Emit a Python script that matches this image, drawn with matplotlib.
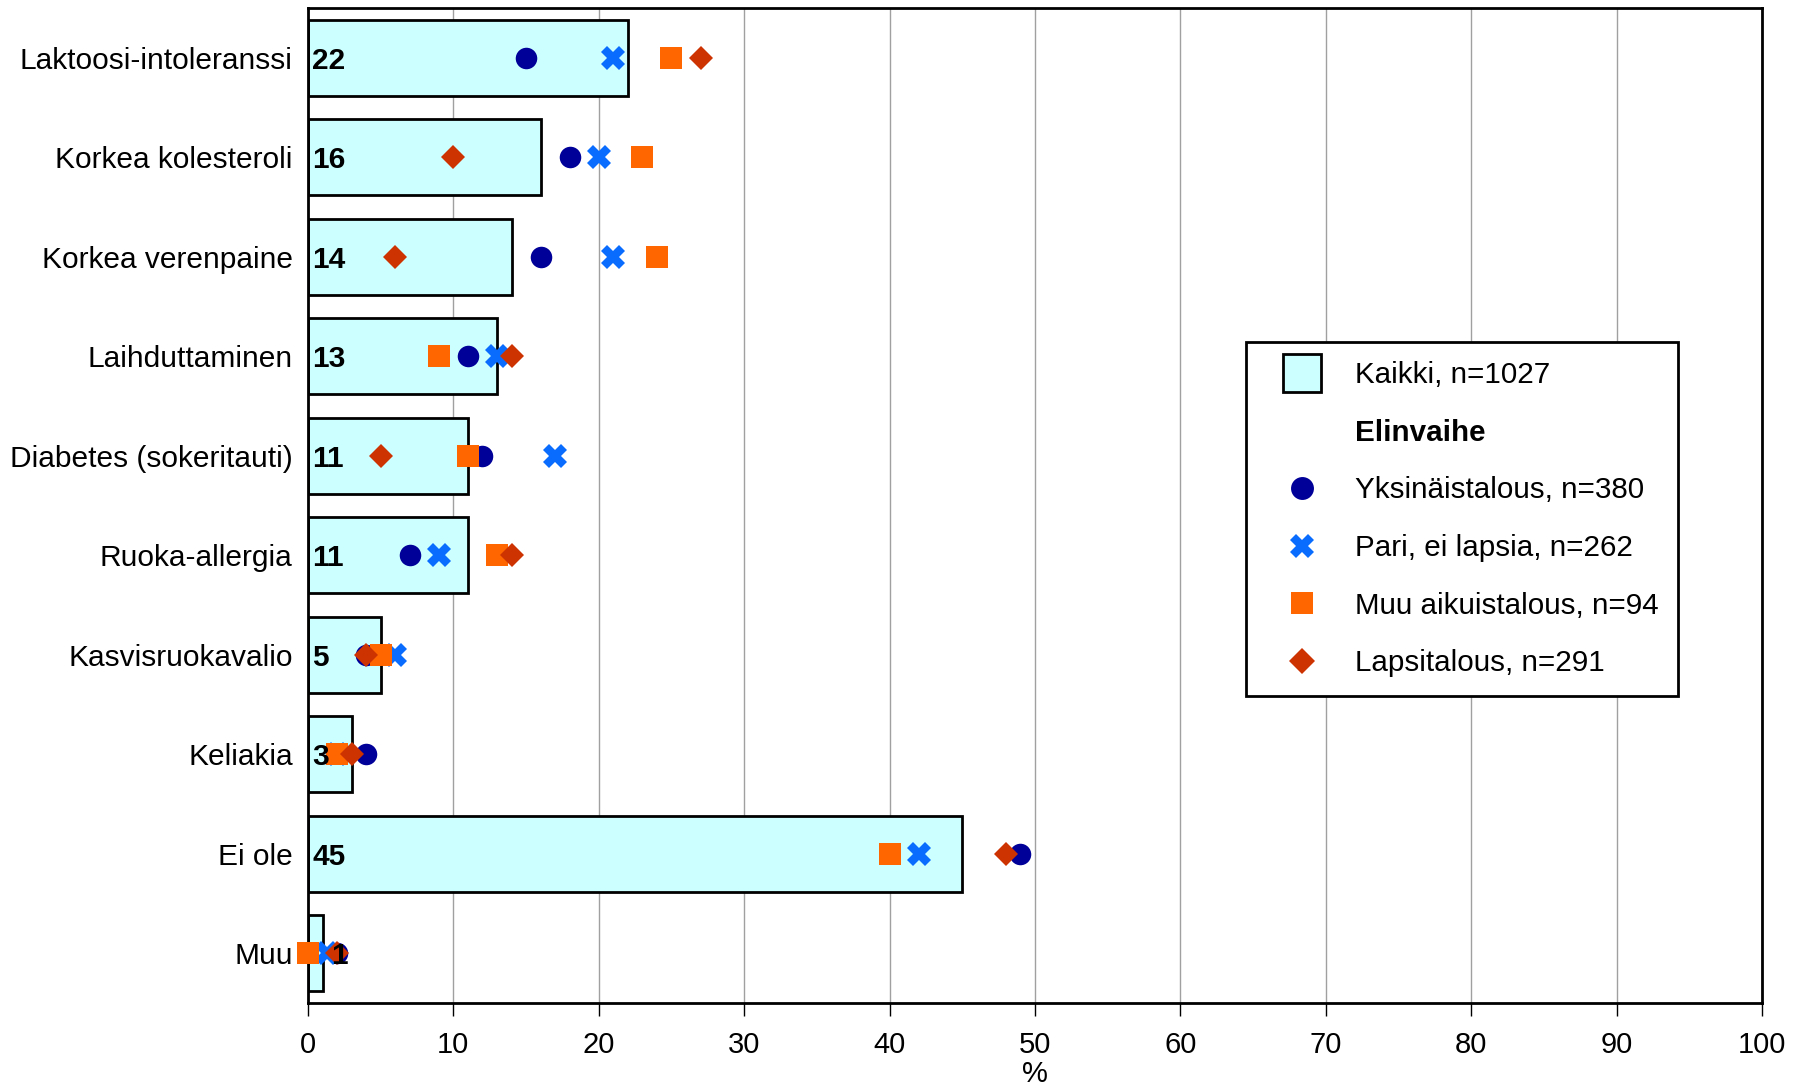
import matplotlib
matplotlib.use("Agg")
import matplotlib.pyplot as plt
from matplotlib.lines import Line2D

plt.rcParams["font.family"] = ["Liberation Sans", "DejaVu Sans"]

CATEGORIES = [
    "Laktoosi-intoleranssi", "Korkea kolesteroli", "Korkea verenpaine",
    "Laihduttaminen", "Diabetes (sokeritauti)", "Ruoka-allergia",
    "Kasvisruokavalio", "Keliakia", "Ei ole", "Muu",
]
KAIKKI = [22, 16, 14, 13, 11, 11, 5, 3, 45, 1]
YKSINAIS = [15, 18, 16, 11, 12, 7, 4, 4, 49, 2]
PARI = [21, 20, 21, 13, 17, 9, 6, 2, 42, 1.3]
MUU_AIKUIS = [25, 23, 24, 9, 11, 13, 5, 2, 40, 0]
LAPSI = [27, 10, 6, 14, 5, 14, 4, 3, 48, 2]

LEGEND_LABELS = [
    "Kaikki, n=1027", "Elinvaihe", "Yksinäistalous, n=380",
    "Pari, ei lapsia, n=262", "Muu aikuistalous, n=94", "Lapsitalous, n=291",
]
XTICKS = list(range(0, 101, 10))

BAR_COLOR = "#ccffff"
C_YKS = "#000099"
C_PARI = "#0a6cff"
C_MUU = "#ff6600"
C_LAPSI = "#cc3300"
FS = 21
FS_LEG = 21.3

fig = plt.figure(figsize=(18.01, 10.9), dpi=100)
ax = fig.add_axes([0.1710, 0.0798, 0.9783 - 0.1710, 0.9927 - 0.0798])

ypos = list(range(len(CATEGORIES)))
ax.barh(ypos, KAIKKI, height=0.76, color=BAR_COLOR, edgecolor="black",
        linewidth=2, zorder=2)

# markers may sit on the y axis (value 0), so don't clip them
ax.plot(YKSINAIS, ypos, "o", color=C_YKS, ms=15.5, mew=0, zorder=3, clip_on=False)
ax.plot(PARI, ypos, "X", color=C_PARI, ms=17, mew=0, zorder=4, clip_on=False)
ax.plot(MUU_AIKUIS, ypos, "s", color=C_MUU, ms=15.5, mew=0, zorder=5, clip_on=False)
ax.plot(LAPSI, ypos, "D", color=C_LAPSI, ms=12.5, mew=0, zorder=6, clip_on=False)

for y, v in zip(ypos, KAIKKI):
    x = 0.3 if v >= 3 else 1.6
    ax.text(x, y, str(v), ha="left", va="center_baseline", fontsize=21.5,
            fontweight="bold", zorder=7)

ax.set_xlim(0, 100)
ax.set_ylim(len(CATEGORIES) - 0.5, -0.5)
ax.set_xticks(XTICKS)
ax.set_yticks(ypos)
ax.set_yticklabels(CATEGORIES, fontsize=21.5)
ax.tick_params(axis="y", length=0, pad=11)
ax.tick_params(axis="x", length=9, width=1, labelsize=FS, pad=11)
ax.grid(axis="x", color="#a0a0a0", linewidth=1, zorder=0)
ax.set_axisbelow(True)
for s in ax.spines.values():
    s.set_linewidth(2)
ax.set_xlabel("%", fontsize=FS, labelpad=1)

handles = [
    Line2D([], [], marker="s", markerfacecolor=BAR_COLOR, markeredgecolor="black",
           mew=2, linestyle="none", ms=27),
    Line2D([], [], linestyle="none"),
    Line2D([], [], marker="o", color=C_YKS, linestyle="none", ms=16.5, mew=0),
    Line2D([], [], marker="X", color=C_PARI, linestyle="none", ms=17, mew=0),
    Line2D([], [], marker="s", color=C_MUU, linestyle="none", ms=16.5, mew=0),
    Line2D([], [], marker="D", color=C_LAPSI, linestyle="none", ms=13, mew=0),
]
leg = fig.legend(handles, LEGEND_LABELS, loc="upper left",
                 bbox_to_anchor=(1246 / 1801, 1 - 342 / 1090),
                 fontsize=FS_LEG, frameon=True, fancybox=False, edgecolor="black",
                 framealpha=1, borderpad=0.65, labelspacing=1.0,
                 handlelength=2.5, handletextpad=0.55, borderaxespad=0)
leg.get_frame().set_linewidth(2)
leg.get_texts()[1].set_fontweight("bold")

fig.savefig("out.png", dpi=100)
